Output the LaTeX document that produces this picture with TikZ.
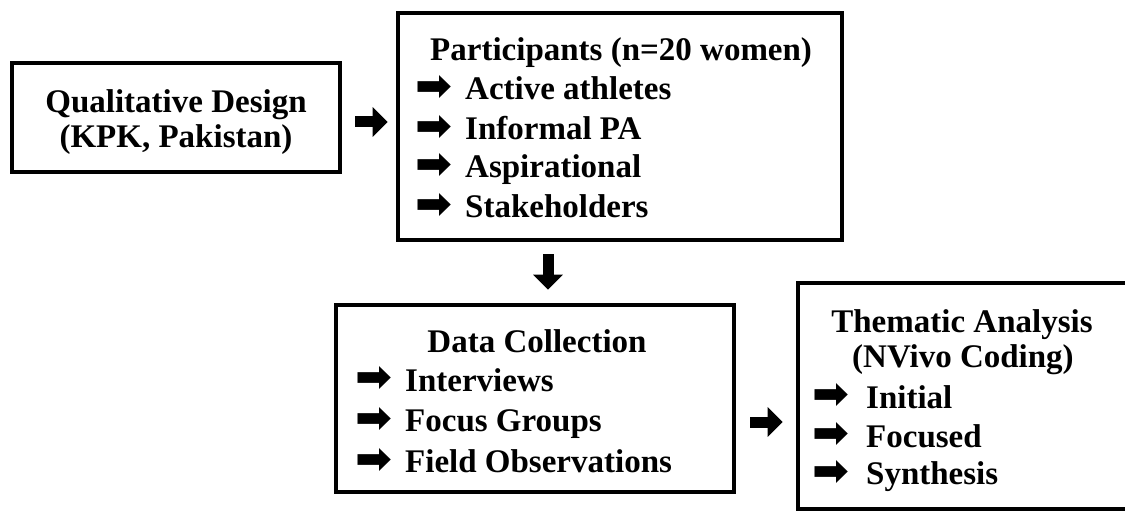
\documentclass[tikz,border=0pt]{standalone}
\usepackage{fontspec}
\setmainfont{Liberation Serif}
\newfontfamily\symfont{DejaVu Sans}
\usetikzlibrary{arrows.meta}
\newcommand\bul[1]{\makebox[#1][l]{\raisebox{-1pt}{\resizebox*{37pt}{25pt}{\symfont\char"27A1}}}}
\begin{document}
\begin{tikzpicture}[x=1pt,y=1pt,
  box/.style={draw, line width=4.8pt, inner sep=0pt},
  txt/.style={inner sep=0pt, font=\fontsize{33}{36}\bfseries\selectfont},
  conn/.style={line width=11pt, -{Triangle[length=15pt,width=29pt]}}]
\useasboundingbox (0,0) rectangle (1125,512);
% boxes
\node[box, minimum width=328pt, minimum height=109pt] (b1) at (176,394.5) {};
\node[box, minimum width=444pt, minimum height=227pt] (b2) at (620,385.5) {};
\node[box, minimum width=398pt, minimum height=187pt] (b3) at (535,113.5) {};
\node[box, minimum width=332pt, minimum height=226pt] (b4) at (964,116) {};
% box 1 text
\node[txt, anchor=base] (t11) at (176,399) {Qualitative Design};
\node[txt, anchor=base] (t12) at (176,364) {(KPK, Pakistan)};
% box 2 text
\node[txt, anchor=base west] (t20) at (430,451) {Participants (n=20 women)};
\node[txt, anchor=base west] (t21) at (415,412) {\bul{50pt}Active athletes};
\node[txt, anchor=base west] (t22) at (415,372) {\bul{50pt}Informal PA};
\node[txt, anchor=base west] (t23) at (415,334) {\bul{50pt}Aspirational};
\node[txt, anchor=base west] (t24) at (415,294) {\bul{50pt}Stakeholders};
% box 3 text
\node[txt, anchor=base] (t30) at (537,160) {Data Collection};
\node[txt, anchor=base west] (t31) at (355,121) {\bul{50pt}Interviews};
\node[txt, anchor=base west] (t32) at (355,81) {\bul{50pt}Focus Groups};
\node[txt, anchor=base west] (t33) at (355,40) {\bul{50pt}Field Observations};
% box 4 text
\node[txt, anchor=base] (t40) at (962,179) {Thematic Analysis};
\node[txt, anchor=base] (t41) at (963,144) {(NVivo Coding)};
\node[txt, anchor=base west] (t42) at (812,104) {\bul{54pt}Initial};
\node[txt, anchor=base west] (t43) at (812,65) {\bul{54pt}Focused};
\node[txt, anchor=base west] (t44) at (812,28) {\bul{54pt}Synthesis};
% connectors
\coordinate (a1s) at ([yshift=-4.5pt]b1.east);
\draw[conn, shorten <=13pt, shorten >=8pt] (a1s) -- (a1s -| b2.west);
\coordinate (dx) at (548,0);
\draw[conn, shorten <=12pt, shorten >=13pt] (b2.south -| dx) -- (b3.north -| dx);
\coordinate (a2y) at (0,90);
\draw[conn, shorten <=14pt, shorten >=13pt] (b3.east |- a2y) -- (b4.west |- a2y);
\end{tikzpicture}
\end{document}
